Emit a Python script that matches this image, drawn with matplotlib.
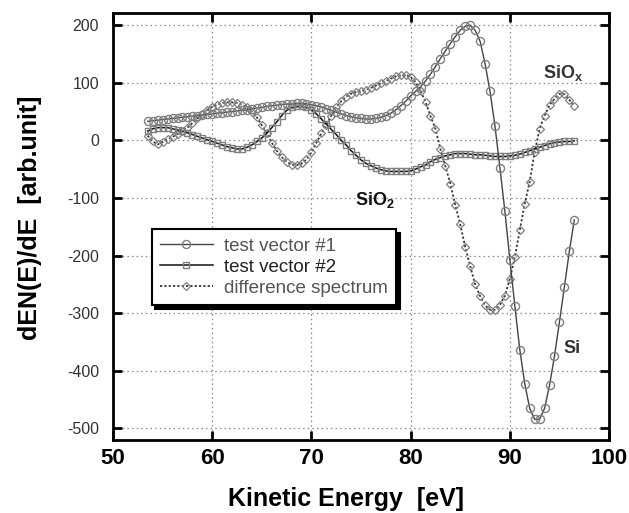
import numpy as np
import matplotlib
matplotlib.use("Agg")
import matplotlib.pyplot as plt

plt.rcParams['font.family'] = ['Liberation Sans', 'DejaVu Sans']
plt.rcParams['mathtext.fontset'] = 'custom'
plt.rcParams['mathtext.bf'] = 'Liberation Sans:bold'
plt.rcParams['mathtext.rm'] = 'Liberation Sans'
plt.rcParams['axes.unicode_minus'] = False

# kinetic energy grid (eV), one sample every 0.5 eV
energy = np.arange(53.5, 97.0, 0.5)

# test vector #1 (circles)
vec1 = [33, 34, 35, 36, 37, 38, 39, 40, 41, 42,
        43, 44, 45, 46, 47, 48, 49, 50, 51, 52,
        53, 55, 56, 57, 59, 60, 61, 62, 63, 63,
        64, 64, 63, 62, 60, 58, 55, 52, 49, 46,
        43, 41, 39, 38, 37, 37, 38, 40, 43, 47,
        53, 60, 68, 77, 85, 93, 103, 115, 128, 142,
        155, 168, 180, 191, 198, 200, 191, 172, 133, 85,
        25, -48, -123, -207, -287, -363, -422, -465, -484, -484,
        -465, -425, -374, -315, -254, -192, -138]

# test vector #2 (squares)
vec2 = [16, 20, 22, 22, 22, 20, 18, 16, 13, 10,
        7, 4, 1, -2, -5, -8, -11, -13, -15, -15,
        -12, -8, -2, 4, 12, 22, 32, 43, 52, 57,
        59, 59, 57, 53, 46, 37, 28, 19, 10, 0,
        -8, -18, -26, -34, -40, -44, -48, -51, -53, -54,
        -54, -54, -54, -53, -50, -46, -43, -37, -33, -30,
        -27, -25, -23, -23, -23, -24, -25, -25, -26, -27,
        -28, -28, -28, -27, -26, -24, -21, -18, -15, -12,
        -9, -6, -4, -3, -2, -2, -1]

# difference spectrum (diamonds)
diff = [8, -2, -7, -3, 2, 6, 11, 16, 22, 30,
        38, 46, 53, 58, 62, 65, 66, 66, 65, 62,
        57, 50, 40, 26, 12, -4, -18, -29, -37, -42,
        -43, -40, -33, -20, -4, 12, 27, 43, 57, 68,
        76, 81, 84, 86, 88, 91, 95, 99, 103, 107,
        111, 113, 114, 110, 101, 85, 67, 42, 20, -15,
        -45, -75, -112, -146, -185, -218, -250, -270, -286, -294,
        -294, -285, -270, -240, -203, -156, -110, -72, -20, 20,
        43, 61, 72, 81, 80, 70, 59]

labels = ['test vector #1', 'test vector #2', 'difference spectrum']

fig = plt.figure(figsize=(6.29, 5.13), dpi=100)
ax = fig.add_axes([0.1797, 0.1423, 0.7886, 0.8324])

mk = '#808080'
ax.plot(energy, vec1, '-', color='#444444', lw=1.0, marker='o', ms=5.8,
        mfc='none', mec=mk, mew=1.0, label=labels[0], zorder=4)
ax.plot(energy, vec2, '-', color='#111111', lw=1.1, marker='s', ms=5.0,
        mfc='none', mec=mk, mew=1.0, label=labels[1], zorder=3)
ax.plot(energy, diff, linestyle=(0, (1.2, 1.2)), color='#333333', lw=1.3,
        marker='D', ms=3.8, mfc='none', mec=mk, mew=0.9, label=labels[2], zorder=2)

ax.set_xlim(50, 100)
ax.set_ylim(-520, 221)
ax.set_xticks([50, 60, 70, 80, 90, 100])
ax.set_yticks([200, 100, 0, -100, -200, -300, -400, -500])

ax.grid(True, color='#888888', linestyle=(0, (1.2, 2.5)), linewidth=0.9)
ax.set_axisbelow(True)

for s in ax.spines.values():
    s.set_linewidth(2.0)
ax.tick_params(direction='in', top=True, right=True, length=6.5, width=2.0)
ax.tick_params(axis='x', labelsize=16, pad=6)
ax.tick_params(axis='y', labelsize=11.5, pad=10, labelcolor='#333333')
for t in ax.get_xticklabels():
    t.set_fontweight('bold')

ax.set_xlabel('Kinetic Energy  [eV]', fontsize=18, fontweight='bold')
ax.set_ylabel('dEN(E)/dE  [arb.unit]', fontsize=18, fontweight='bold')
ax.xaxis.label.set_va('baseline')
ax.xaxis.set_label_coords(0.469, -0.155)
ax.yaxis.set_label_coords(-0.143, 0.521)

ax.text(93.35, 109, r'$\mathbf{SiO}_\mathbf{x}$', fontsize=13, color='#333333',
        ha='left', va='baseline')
ax.text(74.4, -112, r'$\mathbf{SiO}_\mathbf{2}$', fontsize=13, color='#111111',
        ha='left', va='baseline')
ax.text(95.36, -369, 'Si', fontsize=13, fontweight='bold', color='#333333',
        ha='left', va='baseline')

leg = ax.legend(loc='upper left', bbox_to_anchor=(0.078, 0.4934), borderaxespad=0,
                fontsize=13.5, labelspacing=0.2, handlelength=2.8, handletextpad=0.6,
                borderpad=0.45, fancybox=False, framealpha=1,
                shadow={'color': 'black', 'alpha': 1, 'ox': 2.5, 'oy': -2.5})
leg.get_frame().set_edgecolor('black')
leg.get_frame().set_linewidth(1.5)
for t, c in zip(leg.get_texts(), ['#555555', '#222222', '#555555']):
    t.set_color(c)

fig.savefig('out.png', dpi=100)
